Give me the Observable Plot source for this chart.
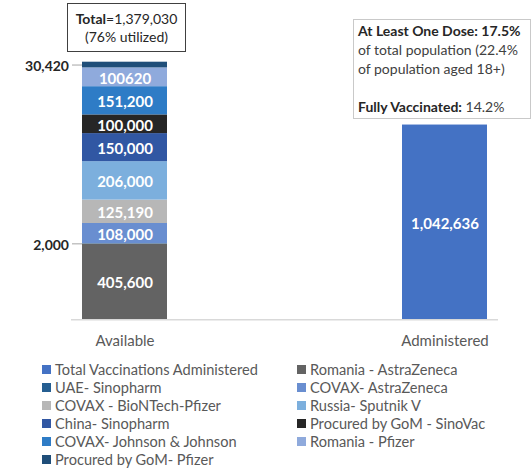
<!DOCTYPE html>
<html>
<head>
<meta charset="utf-8">
<script src="https://cdn.jsdelivr.net/npm/d3@7"></script>
<script src="https://cdn.jsdelivr.net/npm/@observablehq/plot@0.6"></script>
<style>
  html, body { margin: 0; padding: 0; background: #fff; }
  body { width: 531px; height: 468px; overflow: hidden; font-family: Lato, "Open Sans", sans-serif; }
  #wrap { position: relative; width: 531px; }
  .box { position: absolute; box-sizing: border-box; background: #fff; }
  #totalBox { left: 67px; top: 3px; width: 119px; height: 49px; border: 1.5px solid #404040;
    display: flex; flex-direction: column; justify-content: center; align-items: center;
    font-size: 14px; line-height: 17.4px; color: #262626; }
  #doseBox { left: 353px; top: 19px; width: 178px; height: 100px; border: 1.5px solid #c9c9c9;
    padding: 1px 0 0 4px; font-size: 14px; line-height: 19px; color: #404040; white-space: nowrap; }
  #doseBox b { color: #262626; }
  #legend { display: grid; grid-template-columns: 255px 234px; padding-left: 42px; margin-top: 8px; row-gap: 0; }
  .item { display: flex; align-items: center; height: 18px; font-size: 14.6px; color: #595959; white-space: nowrap; }
  .sw { width: 9px; height: 9px; margin-right: 4px; flex: none; }
</style>
</head>
<body>
<div id="wrap"></div>
<script>
// ---- data ----
const categories = ["Available", "Administered"];
const series = [
  "Romania - AstraZeneca",
  "UAE- Sinopharm",
  "COVAX- AstraZeneca",
  "COVAX - BioNTech-Pfizer",
  "Russia- Sputnik V",
  "China- Sinopharm",
  "Procured by GoM - SinoVac",
  "COVAX- Johnson & Johnson",
  "Romania - Pfizer",
  "Procured by GoM- Pfizer"
];
const availableValues = [405600, 2000, 108000, 125190, 206000, 150000, 100000, 151200, 100620, 30420];
const availableLabels = ["405,600", "2,000", "108,000", "125,190", "206,000", "150,000", "100,000", "151,200", "100620", "30,420"];
const labelOutside = [false, true, false, false, false, false, false, false, false, true];
const seriesColors = ["#636363", "#255E91", "#698ED0", "#B7B7B7", "#7CAFDD", "#3157A3", "#262626", "#2E7CC6", "#8FAADC", "#1F4E79"];

const administeredSeries = "Total Vaccinations Administered";
const administeredValue = 1042636;
const administeredLabel = "1,042,636";
const administeredColor = "#4472C4";

const totalText = "1,379,030";
const utilizedText = "(76% utilized)";

// ---- table built from arrays ----
const rows = series.map((s, i) => ({
  cat: categories[0], series: s, value: availableValues[i], label: availableLabels[i], outside: labelOutside[i]
}));
rows.push({cat: categories[1], series: administeredSeries, value: administeredValue, label: administeredLabel, outside: false});

const total = d3.sum(availableValues);

const tick = {draw(ctx) { ctx.moveTo(-5, 0); ctx.lineTo(5, 0); }};

const chart = Plot.plot({
  width: 531,
  height: 352,
  marginLeft: 71,
  marginRight: 33,
  marginTop: 61.7,
  marginBottom: 32.7,
  style: {fontFamily: "Lato, sans-serif", fontSize: "15px", color: "#595959", background: "white"},
  x: {domain: categories, paddingInner: 0.733, paddingOuter: 0.0327, align: 0.5, label: null, tickSize: 0, tickPadding: 16},
  y: {domain: [0, total], axis: null},
  color: {domain: [administeredSeries, ...series], range: [administeredColor, ...seriesColors]},
  marks: [
    Plot.barY(rows, {x: "cat", y: "value", fill: "series"}),
    Plot.ruleY([0], {stroke: "#d9d9d9", strokeWidth: 1.5}),
    Plot.text(rows, Plot.stackY({x: "cat", y: "value", text: d => d.outside ? null : d.label,
      fill: "white", fontWeight: "bold", fontSize: 15, dy: 1.5})),
    Plot.text(rows, Plot.stackY({x: "cat", y: "value", text: d => d.outside ? d.label : null,
      fill: "#262626", fontWeight: "bold", fontSize: 14, textAnchor: "end", dx: -56, dy: 1.5})),
    Plot.dot(rows, Plot.stackY({x: "cat", y: "value", symbol: tick, r: 3, fill: "none",
      stroke: "#a6a6a6", strokeWidth: 1, strokeOpacity: d => d.outside ? 1 : 0, dx: -48}))
  ]
});

const wrap = document.getElementById("wrap");
wrap.appendChild(chart);

const tb = document.createElement("div");
tb.className = "box"; tb.id = "totalBox";
tb.innerHTML = `<div><b>Total</b>=${totalText}</div><div>${utilizedText}</div>`;
wrap.appendChild(tb);

const db = document.createElement("div");
db.className = "box"; db.id = "doseBox";
db.innerHTML = `<div><b>At Least One Dose: 17.5%</b></div><div>of total population (22.4%</div><div>of population aged 18+)</div><div>&nbsp;</div><div><b>Fully Vaccinated:</b> 14.2%</div>`;
wrap.appendChild(db);

// legend (row-major, two columns)
const legend = document.createElement("div");
legend.id = "legend";
const legendNames = [administeredSeries, ...series];
const legendColors = [administeredColor, ...seriesColors];
legendNames.forEach((n, i) => {
  const it = document.createElement("div");
  it.className = "item";
  it.innerHTML = `<span class="sw" style="background:${legendColors[i]}"></span><span>${n.replace(/&/g, "&amp;")}</span>`;
  legend.appendChild(it);
});
document.body.appendChild(legend);
</script>
</body>
</html>
